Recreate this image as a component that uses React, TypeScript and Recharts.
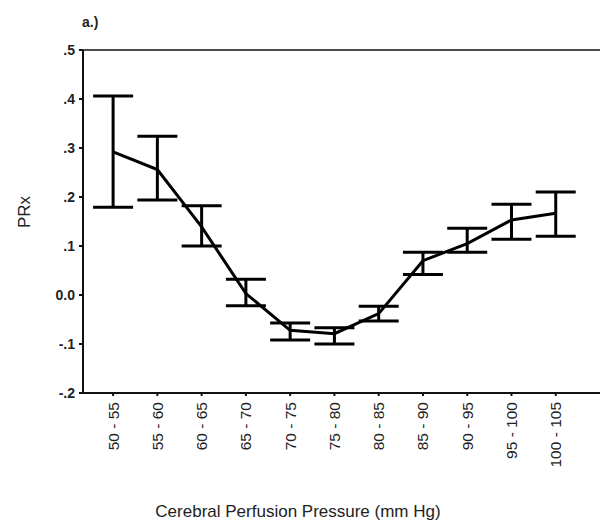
import React from "react";
import {
  ComposedChart,
  Line,
  ErrorBar,
  XAxis,
  YAxis,
  ReferenceLine,
} from "recharts";

// CPP bins and PRx mean with upper / lower error limits
const cppBins = [
  "50 - 55",
  "55 - 60",
  "60 - 65",
  "65 - 70",
  "70 - 75",
  "75 - 80",
  "80 - 85",
  "85 - 90",
  "90 - 95",
  "95 - 100",
  "100 - 105",
];
const prxMean = [0.292, 0.256, 0.139, 0.003, -0.072, -0.079, -0.038, 0.07, 0.105, 0.153, 0.167];
const prxUpper = [0.406, 0.324, 0.182, 0.032, -0.057, -0.067, -0.023, 0.087, 0.136, 0.185, 0.21];
const prxLower = [0.179, 0.194, 0.1, -0.022, -0.092, -0.1, -0.053, 0.042, 0.087, 0.114, 0.12];
const yTicks = [-0.2, -0.1, 0, 0.1, 0.2, 0.3, 0.4, 0.5];
const yTickLabels = ["-.2", "-.1", "0.0", ".1", ".2", ".3", ".4", ".5"];

const data = cppBins.map((bin, i) => ({
  i,
  bin,
  prx: prxMean[i],
  err: [prxMean[i] - prxLower[i], prxUpper[i] - prxMean[i]],
}));

const font = "'Liberation Sans', Arial, sans-serif";

function CppTick(props: any) {
  const { x, y, payload } = props;
  return (
    <g transform={`translate(${x},${y})`}>
      <text
        transform="rotate(-90)"
        x={-4}
        y={0}
        dy="0.35em"
        textAnchor="end"
        fontSize={15.5}
        fontFamily={font}
        fill="#222"
      >
        {cppBins[payload.value]}
      </text>
    </g>
  );
}

export default function App() {
  return (
    <div style={{ position: "absolute", left: 0, top: 0, width: 600, height: 522, background: "#fff" }}>
      <ComposedChart
        width={600}
        height={522}
        data={data}
        margin={{ top: 50, right: 0, left: 0, bottom: 0 }}
      >
        <XAxis
          dataKey="i"
          type="number"
          domain={[-0.68, 11]}
          ticks={cppBins.map((_, i) => i)}
          tick={<CppTick />}
          height={129}
          stroke="#111"
          strokeWidth={2}
          tickSize={3}
          tickMargin={2}
          allowDataOverflow
        />
        <YAxis
          type="number"
          domain={[-0.2, 0.5]}
          ticks={yTicks}
          tickFormatter={(v: number) => yTickLabels[yTicks.findIndex((t) => Math.abs(t - v) < 1e-6)]}
          width={83}
          stroke="#111"
          strokeWidth={2}
          tickSize={4}
          tickMargin={4}
          tick={{ fontSize: 14, fontFamily: font, fill: "#222", fontWeight: 600 }}
          allowDataOverflow
        />
        <ReferenceLine y={0.5} stroke="#111" strokeWidth={1.5} />
        <Line
          dataKey="prx"
          stroke="#000"
          strokeWidth={3}
          dot={false}
          isAnimationActive={false}
        >
          <ErrorBar dataKey="err" direction="y" width={20} stroke="#000" strokeWidth={3} />
        </Line>
      </ComposedChart>
      <svg
        width={600}
        height={522}
        style={{ position: "absolute", left: 0, top: 0, pointerEvents: "none" }}
      >
        <text x={82} y={27} fontSize={14} fontFamily={font} fill="#222" fontWeight={600}>
          a.)
        </text>
        <text
          transform="translate(30,212) rotate(-90)"
          textAnchor="middle"
          fontSize={17}
          fontFamily={font}
          fill="#222"
        >
          PRx
        </text>
        <text x={298} y={517} textAnchor="middle" fontSize={17} fontFamily={font} fill="#222">
          Cerebral Perfusion Pressure (mm Hg)
        </text>
      </svg>
    </div>
  );
}
